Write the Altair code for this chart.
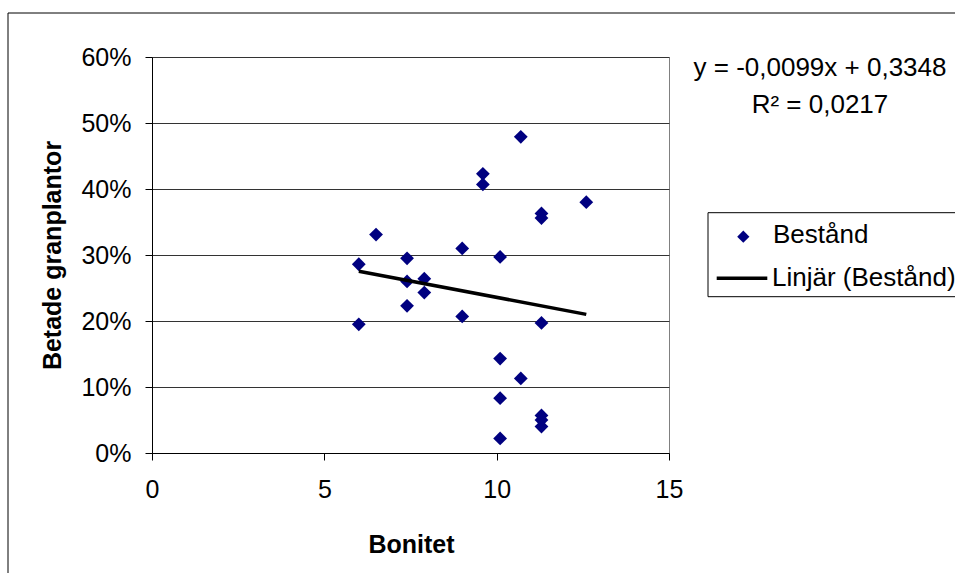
import altair as alt
import pandas as pd

# Data
bonitet = [6.0, 6.0, 6.5, 7.4, 7.4, 7.4, 7.9, 7.9, 9.0, 9.0, 9.6, 9.6, 10.1,
           10.1, 10.1, 10.1, 10.7, 10.7, 11.3, 11.3, 11.3, 11.3, 11.3, 11.3, 12.6]
betade = [0.286, 0.195, 0.331, 0.295, 0.260, 0.223, 0.264, 0.243, 0.310, 0.207,
          0.423, 0.407, 0.297, 0.143, 0.083, 0.022, 0.113, 0.479, 0.363, 0.356,
          0.197, 0.057, 0.050, 0.040, 0.380]
slope = -0.0099
intercept = 0.3348
eq_text = "y = -0,0099x + 0,3348"
r2_text = "R² = 0,0217"
series_points = "Bestånd"
series_line = "Linjär (Bestånd)"
x_ticks = [0, 5, 10, 15]
y_ticks = [0, 0.1, 0.2, 0.3, 0.4, 0.5, 0.6]

FONT = "Liberation Sans"
FS = 25
FS_T = 26
W, H = 517, 396
NAVY = "#000080"

df = pd.DataFrame({"Bonitet": bonitet, "Betade": betade})
xmin, xmax = min(bonitet), max(bonitet)
line_df = pd.DataFrame({"Bonitet": [xmin, xmax],
                        "Betade": [slope * xmin + intercept, slope * xmax + intercept]})

xscale = alt.Scale(domain=[0, 15], nice=False, zero=False)
yscale = alt.Scale(domain=[0, 0.6], nice=False)

xaxis = alt.Axis(values=x_ticks, grid=False, title="Bonitet", format="d", labelFlush=False,
                 labelFont=FONT, labelFontSize=FS, labelColor="black",
                 titleFont=FONT, titleFontSize=FS, titleFontWeight="bold", titleColor="black",
                 domainColor="black", tickColor="black", tickSize=7, labelPadding=17,
                 titleX=259, titleY=91, titleBaseline="middle", titleAlign="center")
yaxis = alt.Axis(values=y_ticks, format=".0%", grid=True, gridColor="#333333", gridWidth=1,
                 title="Betade granplantor", labelFlush=False,
                 labelFont=FONT, labelFontSize=FS, labelColor="black",
                 titleFont=FONT, titleFontSize=FS, titleFontWeight="bold", titleColor="black",
                 domainColor="black", tickColor="black", tickSize=7, labelPadding=14,
                 titleX=-100, titleY=198, titleBaseline="middle", titleAlign="center")

points = alt.Chart(df).mark_point(shape="diamond", filled=True, color=NAVY, size=190, opacity=1).encode(
    x=alt.X("Bonitet:Q", scale=xscale, axis=xaxis),
    y=alt.Y("Betade:Q", scale=yscale, axis=yaxis),
)
trend = alt.Chart(line_df).mark_line(color="black", strokeWidth=3.5).encode(
    x=alt.X("Bonitet:Q", scale=xscale),
    y=alt.Y("Betade:Q", scale=yscale),
)

one = alt.Data(values=[{"a": 1}])

def txt(t, x, y, align="left", weight="normal", size=FS_T):
    return alt.Chart(one).mark_text(font=FONT, fontSize=size, align=align, baseline="middle",
                                    color="black", fontWeight=weight).encode(
        x=alt.value(x), y=alt.value(y), text=alt.value(t))

# outer frame (top and left edges visible)
frame_top = alt.Chart(one).mark_rule(color="black", strokeWidth=1).encode(
    x=alt.value(-144), x2=alt.value(820), y=alt.value(-44))
frame_left = alt.Chart(one).mark_rule(color="black", strokeWidth=1).encode(
    x=alt.value(-144), y=alt.value(-44), y2=alt.value(530))

# legend
leg_box = alt.Chart(one).mark_rect(fill="white", stroke="black", strokeWidth=1).encode(
    x=alt.value(556), x2=alt.value(820), y=alt.value(155.7), y2=alt.value(239.7))
leg_pt = alt.Chart(one).mark_point(shape="diamond", filled=True, color=NAVY, size=150, opacity=1).encode(
    x=alt.value(591.3), y=alt.value(179.7))
leg_line = alt.Chart(one).mark_rule(color="black", strokeWidth=3.5).encode(
    x=alt.value(564.7), x2=alt.value(615.3), y=alt.value(221.3))

chart = alt.layer(
    frame_top, frame_left, points, trend,
    txt(eq_text, 668, 11, align="center"),
    txt(r2_text, 668, 48, align="center"),
    leg_box, leg_pt, leg_line,
    txt(series_points, 621, 178),
    txt(series_line, 620, 221),
).properties(
    width=W, height=H,
    autosize=alt.AutoSizeParams(type="none"),
    padding={"left": 152, "top": 57, "right": 286, "bottom": 120},
    background="white",
).configure_view(stroke="#808080", strokeWidth=1)

chart.save("out.html", embed_options={"renderer": "svg", "actions": False})
